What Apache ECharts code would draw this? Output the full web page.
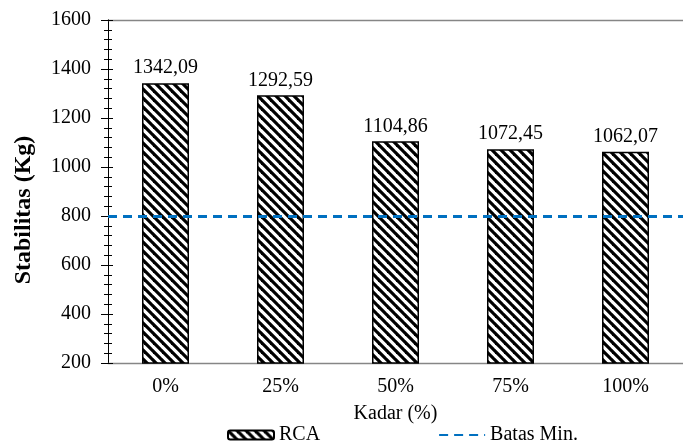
<!DOCTYPE html>
<html>
<head>
<meta charset="utf-8">
<script src="https://cdn.jsdelivr.net/npm/echarts@6/dist/echarts.min.js"></script>
<style>html,body{margin:0;padding:0;background:#fff;}#c{width:683px;height:447px;}</style>
</head>
<body>
<div id="c"></div>
<script>
const categories = ['0%', '25%', '50%', '75%', '100%'];
const rcaValues = [1342.09, 1292.59, 1104.86, 1072.45, 1062.07];
const batasMin = 800;
const yTicks = { min: 200, max: 1600, interval: 200 };

const FONT = "'Liberation Serif', 'Times New Roman', serif";

function hatch() {
  const n = 9;
  const c = document.createElement('canvas');
  c.width = n; c.height = n;
  const g = c.getContext('2d');
  g.fillStyle = '#fff';
  g.fillRect(0, 0, n, n);
  g.strokeStyle = '#000';
  g.lineWidth = 3.2;
  for (let k = -1; k <= 1; k++) {
    g.beginPath();
    g.moveTo(-2, -2 + n * k);
    g.lineTo(n + 2, n + 2 + n * k);
    g.stroke();
  }
  return c;
}

const chart = echarts.init(document.getElementById('c'));
const yBase = {
  type: 'value', min: yTicks.min, max: yTicks.max, interval: yTicks.interval,
  position: 'left', offset: 0, splitLine: { show: false },
  axisLine: { show: true, lineStyle: { color: '#000', width: 1 } }
};
chart.setOption({
  animation: false,
  backgroundColor: '#fff',
  grid: { left: 108, top: 20, width: 584, height: 343, containLabel: false },
  legend: {
    left: 227, top: 425, itemGap: 118, itemWidth: 46, itemHeight: 9, padding: 0,
    textStyle: { fontFamily: FONT, fontSize: 20, color: '#000' },
    data: ['RCA', 'Batas Min.']
  },
  graphic: [{
    type: 'text', x: 24, y: 210, rotation: Math.PI / 2,
    style: {
      text: 'Stabilitas (Kg)', font: "bold 24px 'Liberation Serif', 'Times New Roman', serif",
      fill: '#000', textAlign: 'center', textVerticalAlign: 'middle', align: 'center', verticalAlign: 'middle'
    }
  }],
  xAxis: [{
    type: 'category', data: categories, position: 'bottom',
    name: 'Kadar (%)', nameLocation: 'middle', nameGap: 41,
    nameTextStyle: { fontFamily: FONT, fontSize: 20, color: '#000' },
    axisLine: { lineStyle: { color: '#868686', width: 1.3 } },
    axisTick: { show: false },
    axisLabel: { fontFamily: FONT, fontSize: 20, color: '#000', margin: 14 }
  }, {
    type: 'category', data: categories, position: 'top',
    axisLine: { show: true, lineStyle: { color: '#868686', width: 1.3 } },
    axisTick: { show: false }, axisLabel: { show: false }
  }],
  yAxis: [
    Object.assign({}, yBase, {
      axisTick: { show: true, length: 7, lineStyle: { color: '#000' } },
      minorTick: { show: true, splitNumber: 5, length: 4, lineStyle: { color: '#000' } },
      minorSplitLine: { show: false },
      axisLabel: { fontFamily: FONT, fontSize: 20, color: '#000', margin: 17, formatter: v => String(v) }
    }),
    Object.assign({}, yBase, {
      axisTick: { show: true, inside: true, length: 5, lineStyle: { color: '#000' } },
      minorTick: { show: true, splitNumber: 5, length: 4, lineStyle: { color: '#000' } },
      minorSplitLine: { show: false },
      axisLabel: { show: false }
    })
  ],
  series: [{
    name: 'RCA', type: 'bar', data: rcaValues, barWidth: 47,
    xAxisIndex: 0, yAxisIndex: 0,
    itemStyle: { color: { image: hatch(), repeat: 'repeat' }, borderColor: '#000', borderWidth: 1.5 },
    label: {
      show: true, position: 'top', distance: 5,
      fontFamily: FONT, fontSize: 20, color: '#000',
      formatter: p => p.value.toFixed(2).replace('.', ',')
    }
  }, {
    name: 'Batas Min.', type: 'line', data: [null, null, null, null, null], symbol: 'none',
    xAxisIndex: 0, yAxisIndex: 1,
    itemStyle: { color: '#0070C0', opacity: 0 },
    lineStyle: { color: '#0070C0', width: 3, type: [9, 6] },
    markLine: {
      silent: true, symbol: ['none', 'none'], label: { show: false },
      lineStyle: { color: '#0070C0', width: 3, type: [9, 6], opacity: 1 },
      data: [{ yAxis: batasMin }]
    }
  }]
});
</script>
</body>
</html>
